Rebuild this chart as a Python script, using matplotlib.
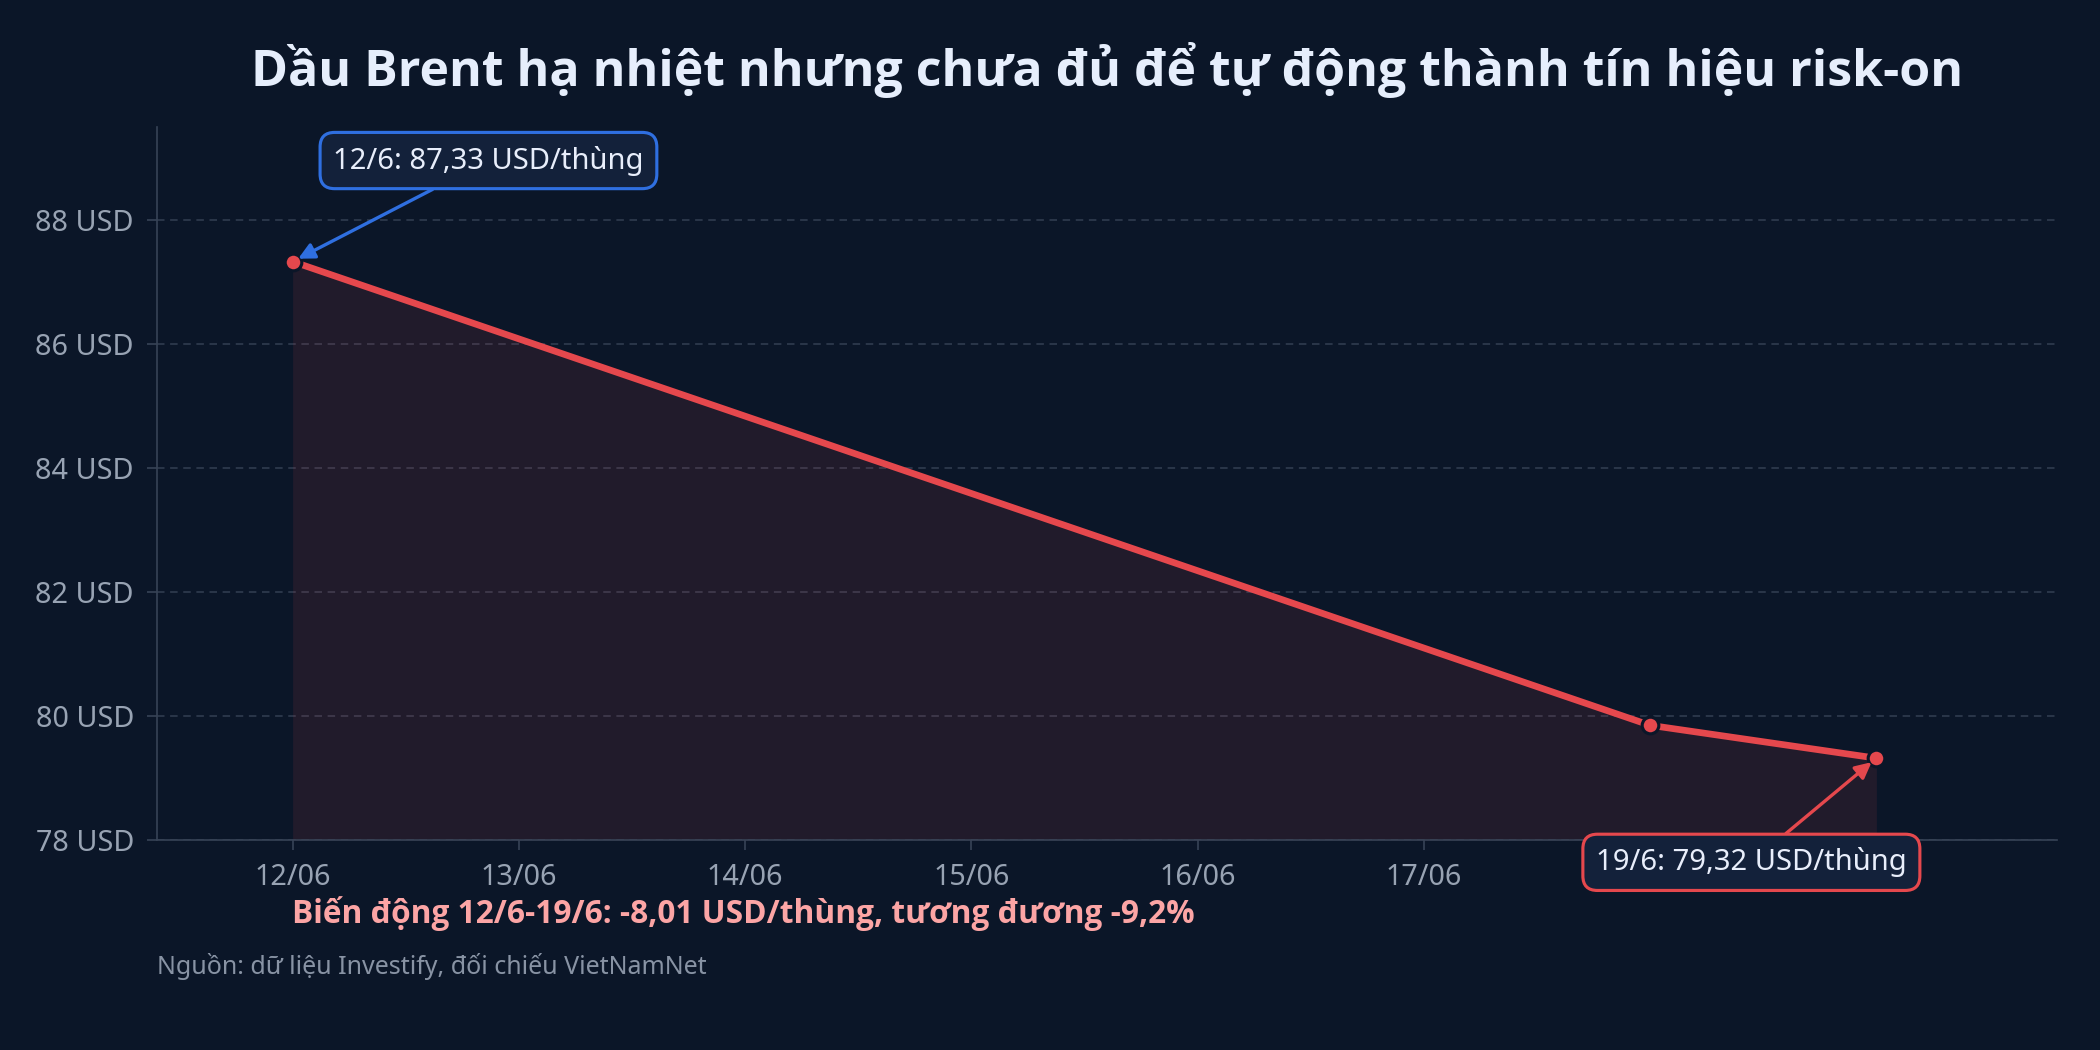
import matplotlib
matplotlib.use("Agg")
import matplotlib.pyplot as plt
import matplotlib.dates as mdates
import pandas as pd

plt.rcParams['font.family'] = ['Noto Sans', 'DejaVu Sans']
BOLD_FAMILY = ['Open Sans', 'Noto Sans', 'DejaVu Sans']

# data
dates = pd.to_datetime(["2025-06-12", "2025-06-18", "2025-06-19"])
prices = [87.33, 79.85, 79.32]
tick_dates = pd.date_range("2025-06-12", "2025-06-19", freq="D")

title = "Dầu Brent hạ nhiệt nhưng chưa đủ để tự động thành tín hiệu risk-on"
source = "Nguồn: dữ liệu Investify, đối chiếu VietNamNet"

BG = "#0b1628"
RED = "#e5484d"
BLUE = "#2f6fe0"


def vn(v):
    return f"{v:.2f}".replace(".", ",")


change = prices[-1] - prices[0]
pct = change / prices[0] * 100
change_text = (f"Biến động 12/6-19/6: {vn(change)} USD/thùng, "
               f"tương đương {pct:.1f}%".replace(".", ","))

fig = plt.figure(figsize=(14, 7), dpi=150, facecolor=BG)
ax = fig.add_axes([0.0747, 0.2, 0.905, 0.679])
ax.set_facecolor(BG)

ax.fill_between(dates, prices, 78, color=RED, alpha=0.1, lw=0, zorder=1)
ax.plot(dates, prices, color=RED, lw=3.2, marker='o', ms=8,
        mfc=RED, mec=BG, mew=1.5, zorder=3)

ax.set_ylim(78, 89.5)
ax.set_xlim(dates[0] - pd.Timedelta(hours=14.4), dates[0] + pd.Timedelta(hours=187.2))
ax.set_yticks([78, 80, 82, 84, 86, 88])
ax.set_yticklabels([f"{t} USD" for t in [78, 80, 82, 84, 86, 88]])
ax.set_xticks(tick_dates)
ax.xaxis.set_major_formatter(mdates.DateFormatter('%d/%m'))

ax.grid(axis='y', color='#2c384b', ls=(0, (4, 3)), lw=0.9)
ax.set_axisbelow(True)
for s in ['top', 'right']:
    ax.spines[s].set_visible(False)
for s in ['left', 'bottom']:
    ax.spines[s].set_color('#374356')
ax.tick_params(colors='#374356', labelcolor='#98a3b3', labelsize=13.8, length=5, pad=6)

ax.annotate(f"12/6: {vn(prices[0])} USD/thùng", xy=(dates[0], prices[0]),
            xytext=(94, 48.5), textcoords='offset points', ha='center', va='center',
            fontsize=14, color='#e8eefb', zorder=5,
            bbox=dict(boxstyle='round,pad=0.45,rounding_size=0.5', fc='#13213a', ec=BLUE, lw=1.5),
            arrowprops=dict(arrowstyle='-|>', color=BLUE, lw=1.6, mutation_scale=16,
                            shrinkA=0, shrinkB=3))
ax.annotate(f"19/6: {vn(prices[-1])} USD/thùng", xy=(dates[-1], prices[-1]),
            xytext=(-60, -50), textcoords='offset points', ha='center', va='center',
            fontsize=14, color='#e8eefb', zorder=5, annotation_clip=False,
            bbox=dict(boxstyle='round,pad=0.45,rounding_size=0.5', fc='#13213a', ec=RED, lw=1.5),
            arrowprops=dict(arrowstyle='-|>', color=RED, lw=1.6, mutation_scale=16,
                            shrinkA=0, shrinkB=3))

fig.text(0.527, 0.933, title, ha='center', va='center', fontsize=24,
         fontweight='bold', color='#e6eefc', family=BOLD_FAMILY)
fig.text(0.354, 0.13, change_text, ha='center', va='center', fontsize=15.2,
         fontweight='bold', color='#fca5a5', family=BOLD_FAMILY)
fig.text(0.0747, 0.08, source, ha='left', va='center', fontsize=12, color='#8893a4')

fig.savefig("out.png", dpi=150, facecolor=BG)
